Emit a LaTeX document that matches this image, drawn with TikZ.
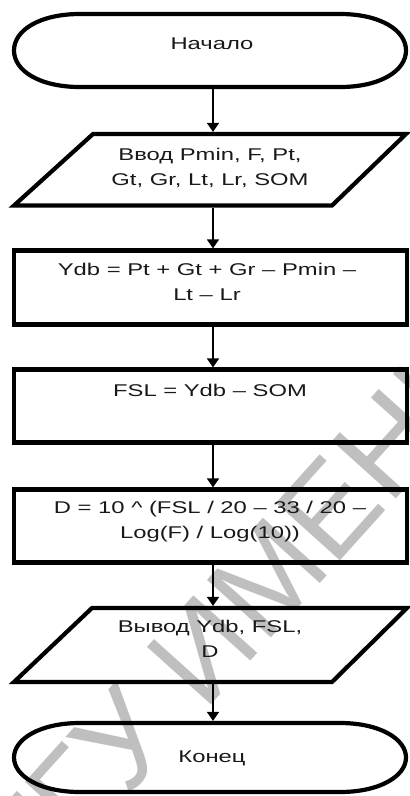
\documentclass[tikz,border=0pt]{standalone}
\usepackage{fontspec}
\setmainfont{Liberation Sans}[FakeStretch=1.4]
\newfontfamily\markfont{Liberation Sans}
\usetikzlibrary{arrows.meta}

% Stadium-like terminal outline between x=14 and x=406
\newcommand\terminaloutline[2]{%
  \draw[outline] (80,#1) -- (340,#1)
    .. controls (380,#1) and (406,#1+16) .. (406,{(#1+#2)/2})
    .. controls (406,#2-16) and (380,#2) .. (340,#2)
    -- (80,#2)
    .. controls (40,#2) and (14,#2-16) .. (14,{(#1+#2)/2})
    .. controls (14,#1+16) and (40,#1) .. (80,#1) -- cycle;}

\begin{document}
\begin{tikzpicture}[x=1pt,y=-1pt,
  outline/.style={line width=4.2pt, line join=miter, draw=black},
  flow/.style={line width=1.5pt, -{Triangle[width=12pt,length=9pt]}},
  caption/.style={font=\fontsize{17}{25}\selectfont, align=center,
    text=black!90, inner sep=0pt, anchor=base},
  hull/.style={draw=none, inner sep=0pt, outer sep=0pt},
  stepbox/.style={outline, inner sep=0pt, outer sep=2.1pt,
    minimum width=393pt}]

% background and page frame
\fill[white] (0,0) rectangle (410,796);
\useasboundingbox (0,0) rectangle (410,796);

% watermark behind the chart
\begin{scope}
  \clip (0,0) rectangle (410,796);
  \node[anchor=base west, rotate=48, inner sep=0pt, text=black!25,
    font=\markfont\fontsize{125}{125}\selectfont] (mark) at (37,898) {ГГУ ИМЕНИ};
\end{scope}

\coordinate (axis) at (213,0);

% start
\terminaloutline{14}{87}
\node[hull, minimum width=396.2pt, minimum height=77.2pt] (start) at (210,50.5) {};
\node[caption] (startlabel) at (212,49) {Начало};

% input (multi-line captions are placed by their last baseline)
\draw[outline] (93,134) -- (406,134) -- (332,205.5) -- (14,205.5) -- cycle;
\node[hull, minimum width=396pt, minimum height=75.7pt] (input) at (210,169.75) {};
\node[caption] (inputlabel) at (210,185) {Ввод Pmin, F, Pt,\\Gt, Gr, Lt, Lr, SOM};

% processing steps
\node[stepbox, minimum height=74pt] (calc1) at (210.5,287.5) {};
\node[caption] (calc1label) at (207,300) {Ydb = Pt + Gt + Gr – Pmin –\\Lt – Lr};

\node[stepbox, minimum height=73pt] (calc2) at (210.5,406) {};
\node[caption] (calc2label) at (210,396) {FSL = Ydb – SOM};

\node[stepbox, minimum height=73pt] (calc3) at (210.5,526) {};
\node[caption] (calc3label) at (210,538) {D = 10 \^{} (FSL / 20 – 33 / 20 –\\Log(F) / Log(10))};

% output
\draw[outline] (92,608) -- (407,608) -- (332,682) -- (14,682) -- cycle;
\node[hull, minimum width=397pt, minimum height=78.2pt] (output) at (210.5,645) {};
\node[caption] (outputlabel) at (210,657) {Вывод Ydb, FSL,\\D};

% end
\terminaloutline{723}{792}
\node[hull, minimum width=396.2pt, minimum height=73.2pt] (finish) at (210,757.5) {};
\node[caption] (finishlabel) at (212,762) {Конец};

% connectors
\draw[flow] (start.south -| axis) -- (input.north -| axis);
\draw[flow] (input.south -| axis) -- (calc1.north -| axis);
\draw[flow] (calc1.south -| axis) -- (calc2.north -| axis);
\draw[flow] (calc2.south -| axis) -- (calc3.north -| axis);
\draw[flow] (calc3.south -| axis) -- (output.north -| axis);
\draw[flow] (output.south -| axis) -- (finish.north -| axis);
\end{tikzpicture}
\end{document}
